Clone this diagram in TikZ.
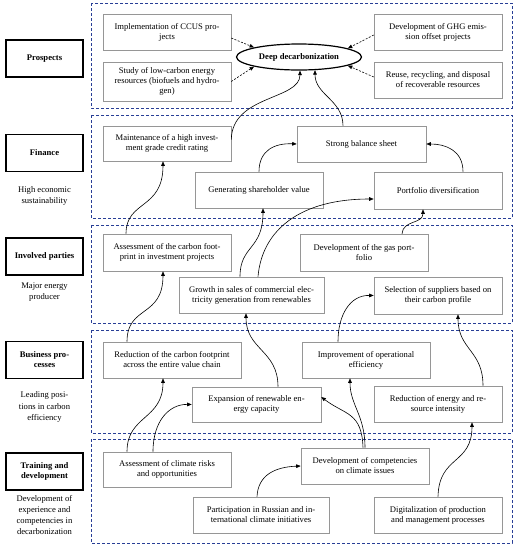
\documentclass[tikz,border=0pt]{standalone}
\usepackage{fontspec}
\setmainfont{Liberation Serif}
\usetikzlibrary{arrows.meta,shapes.geometric}
\definecolor{bandblue}{RGB}{40,62,150}
\definecolor{boxgray}{RGB}{150,150,150}
\tikzset{
  box/.style={draw=boxgray, line width=0.6pt, fill=white, align=center, inner sep=1pt,
    minimum width=128pt, minimum height=36pt, font=\fontsize{8.6}{10}\selectfont},
  lbl/.style={draw=black, line width=1.2pt, fill=white, align=center, inner sep=1pt,
    minimum width=77pt, minimum height=37pt, font=\bfseries\fontsize{8.6}{10}\selectfont},
  sub/.style={align=center, inner sep=0pt, font=\fontsize{8.6}{11.2}\selectfont},
  band/.style={draw=bandblue, line width=1pt, dash pattern=on 3pt off 2pt},
  link/.style={line width=0.6pt, -{Triangle[length=4.5pt,width=3.6pt]}},
  dlink/.style={link, dash pattern=on 2pt off 1.5pt},
}
\begin{document}
\begin{tikzpicture}[x=1pt,y=-1pt]
\useasboundingbox[fill=white] (0,0) rectangle (520,550);
% bands
\draw[band] (91,3) rectangle (512,108);
\draw[band] (91,115) rectangle (512,218);
\draw[band] (91,225) rectangle (512,323);
\draw[band] (91,330) rectangle (512,433);
\draw[band] (91,439) rectangle (512,543);
% left labels
\node[lbl] (lp) at (44.5,58.5) {Prospects};
\node[lbl] (lf) at (44.5,153) {Finance};
\node[sub] (sf) at (44.5,196) {High economic\\sustainability};
\node[lbl] (li) at (44.5,256.5) {Involved parties};
\node[sub] (si) at (44.5,292) {Major energy\\producer};
\node[lbl] (lb) at (44.5,360) {Business pro-\\cesses};
\node[sub] (sb) at (44.5,407) {Leading posi-\\tions in carbon\\efficiency};
\node[lbl] (lt) at (44.5,471.5) {Training and\\development};
\node[sub] (st) at (44.5,515) {Development of\\experience and\\competencies in\\decarbonization};
% prospects
\node[box] (ccus) at (167,32) {Implementation of CCUS pro-\\jects};
\node[box, minimum height=39pt] (study) at (167,81.5) {Study of low-carbon energy\\resources (biofuels and hydro-\\gen)};
\node[draw=black, line width=1.2pt, ellipse, minimum width=125pt, minimum height=26pt, inner sep=0pt,
  font=\bfseries\fontsize{8.6}{10}\selectfont] (dd) at (299,57) {Deep decarbonization};
\node[box] (ghg) at (438,32) {Development of GHG emis-\\sion offset projects};
\node[box] (reuse) at (438,80) {Reuse, recycling, and disposal\\of recoverable resources};
% finance
\node[box, minimum height=35pt] (maint) at (167,143.5) {Maintenance of a high invest-\\ment grade credit rating};
\node[box, minimum width=129pt] (strong) at (361.5,144) {Strong balance sheet};
\node[box] (gen) at (259,190) {Generating shareholder value};
\node[box, minimum height=37pt] (port) at (438,190.5) {Portfolio diversification};
% involved
\node[box, minimum height=37pt] (assess) at (167,252.5) {Assessment of the carbon foot-\\print in investment projects};
\node[box, minimum height=37pt] (gas) at (364,252.5) {Development of the gas port-\\folio};
\node[box, minimum width=145pt] (growth) at (251.5,295) {Growth in sales of commercial elec-\\tricity generation from renewables};
\node[box, minimum height=37pt] (select) at (438,295.5) {Selection of suppliers based on\\their carbon profile};
% business
\node[box, minimum width=138pt] (redcarb) at (172,360) {Reduction of the carbon footprint\\across the entire value chain};
\node[box] (improve) at (366,360) {Improvement of operational\\efficiency};
\node[box, minimum width=129pt, minimum height=35pt] (expand) at (256.5,404.5) {Expansion of renewable en-\\ergy capacity};
\node[box] (redenergy) at (438,404) {Reduction of energy and re-\\source intensity};
% training
\node[box, minimum height=35pt] (climrisk) at (167,469.5) {Assessment of climate risks\\and opportunities};
\node[box] (comp) at (365,466) {Development of competencies\\on climate issues};
\node[box, minimum width=136pt] (partic) at (261,515) {Participation in Russian and in-\\ternational climate initiatives};
\node[box] (digit) at (438,515) {Digitalization of production\\and management processes};
% dashed arrows to deep decarbonization
\draw[dlink] ([yshift=-6pt]ccus.east) -- (dd.168);
\draw[dlink] (study.east) -- (dd.192);
\draw[dlink] ([yshift=-3pt]ghg.west) -- (dd.10);
\draw[dlink] ([yshift=3pt]reuse.west) -- (dd.-10);
% curved connectors
\draw[link] ([yshift=4pt]maint.east) .. controls (232,95) and (300,100) .. ([xshift=1pt]dd.south);
\draw[link] ([xshift=-18.5pt]strong.north) .. controls (343,100) and (315,95) .. ([xshift=16pt,yshift=0.5pt]dd.south);
\draw[link] (gen.north) .. controls (259,150) and (275,143) .. (strong.west);
\draw[link] ([xshift=25pt]port.north) .. controls (463,150) and (445,144) .. (strong.east);
\draw[link] ([xshift=-41pt]assess.north) .. controls (126,200) and (163,210) .. ([xshift=-4pt]maint.south);
\draw[link] ([xshift=-11.5pt]growth.north) .. controls (240,245) and (263,250) .. ([xshift=4pt]gen.south);
\draw[link] ([xshift=6.5pt]growth.north) .. controls (262,230) and (300,199) .. ([yshift=-8.5pt]port.west);
\draw[link] ([xshift=38pt]gas.north) .. controls (403,220) and (423,224) .. ([xshift=-15pt]port.south);
\draw[link] ([xshift=-45pt]redcarb.north) .. controls (127,305) and (163,318) .. ([xshift=-4pt]assess.south);
\draw[link] ([xshift=21.5pt]expand.north) .. controls (278,350) and (246,350) .. ([xshift=-5.5pt]growth.south);
\draw[link] ([xshift=-28pt]improve.north) .. controls (338,315) and (350,295) .. (select.west);
\draw[link] ([xshift=45pt]redenergy.north) .. controls (483,350) and (458,350) .. ([xshift=20pt]select.south);
\draw[link] ([xshift=-40pt]climrisk.north) .. controls (127,415) and (163,420) .. ([xshift=-9pt]redcarb.south);
\draw[link] ([xshift=-14pt]climrisk.north) .. controls (153,420) and (170,404) .. (expand.west);
\draw[link] ([xshift=-2pt]comp.north) .. controls (362,412) and (345,415) .. ([yshift=7.5pt]expand.east);
\draw[link] (comp.north) .. controls (365,415) and (350,405) .. ([xshift=-16pt]improve.south);
\draw[link] (digit.north) .. controls (439,455) and (472,465) .. ([xshift=34pt]redenergy.south);
\draw[link] ([xshift=-4pt]partic.north) .. controls (258,475) and (275,467) .. (comp.west);
\end{tikzpicture}
\end{document}
